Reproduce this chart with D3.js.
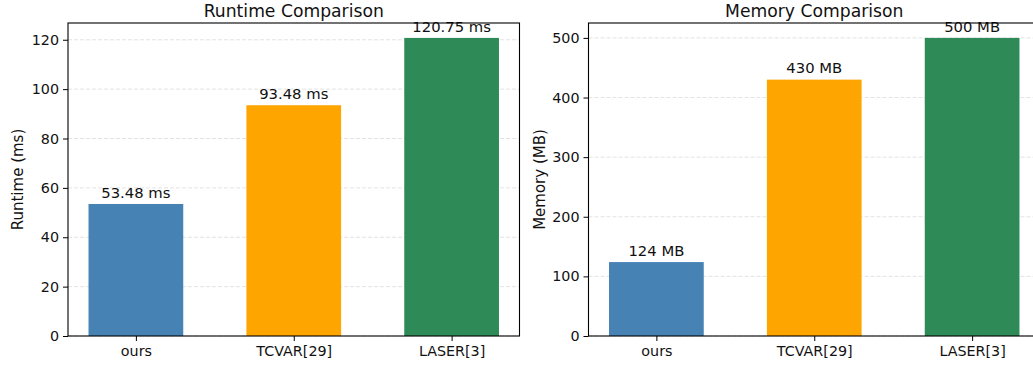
<!DOCTYPE html>
<html>
<head>
<meta charset="utf-8">
<script src="https://cdn.jsdelivr.net/npm/d3@7"></script>
<style>
  body { margin: 0; background: #fff; }
  svg { display: block; font-family: "DejaVu Sans", sans-serif; }
</style>
</head>
<body>
<div id="chart"></div>
<script>
// data
var categories = ["ours", "TCVAR[29]", "LASER[3]"];
var barColors = ["#4682b4", "#ffa500", "#2e8b57"];
var runtimeValues = [53.48, 93.48, 120.75];
var memoryValues = [124, 430, 500];
var runtimeTicks = [0, 20, 40, 60, 80, 100, 120];
var memoryTicks = [0, 100, 200, 300, 400, 500];
var runtimeLabels = ["53.48 ms", "93.48 ms", "120.75 ms"];
var memoryLabels = ["124 MB", "430 MB", "500 MB"];

var width = 1033, height = 366;

var svg = d3.select("#chart")
    .append("svg")
    .attr("width", width)
    .attr("height", height);

// one panel = one matplotlib axes
function drawPanel(left, values, labels, ticks, ymax, title, ylabel, ylabelX) {
  var top = 23, bottom = 336, w = 451.5;

  var x = d3.scaleLinear()
      .domain([-0.43, 2.43])
      .range([left, left + w]);

  var y = d3.scaleLinear()
      .domain([0, ymax])
      .range([bottom, top]);

  var g = svg.append("g");

  // grid behind the bars
  g.selectAll(".grid")
    .data(ticks)
    .enter().append("line")
    .attr("x1", left).attr("x2", left + w)
    .attr("y1", function(d) { return y(d); })
    .attr("y2", function(d) { return y(d); })
    .attr("stroke", "#dcdcdc")
    .attr("stroke-width", 0.8)
    .attr("stroke-dasharray", "4,2");

  var bw = x(0.6) - x(0);
  g.selectAll(".bar")
    .data(values)
    .enter().append("rect")
    .attr("x", function(d, i) { return x(i) - bw / 2; })
    .attr("y", function(d) { return y(d); })
    .attr("width", bw)
    .attr("height", function(d) { return bottom - y(d); })
    .attr("fill", function(d, i) { return barColors[i]; });

  // value labels above bars
  g.selectAll(".val")
    .data(values)
    .enter().append("text")
    .attr("x", function(d, i) { return x(i); })
    .attr("y", function(d) { return y(d) - 6.3; })
    .attr("text-anchor", "middle")
    .attr("font-size", "14.8px")
    .attr("fill", "#111")
    .text(function(d, i) { return labels[i]; });

  // axes
  var yAxis = d3.axisLeft(y).tickValues(ticks).tickSize(5).tickPadding(4);
  var yg = g.append("g").attr("transform", "translate(" + left + ",0)").call(yAxis);
  yg.select(".domain").remove();
  yg.selectAll("text").attr("font-size", "14.3px").attr("fill", "#111")
    .attr("font-family", "DejaVu Sans, sans-serif");
  yg.selectAll("line").attr("stroke", "#000");

  var xAxis = d3.axisBottom(x).tickValues([0, 1, 2])
      .tickFormat(function(d) { return categories[d]; })
      .tickSize(5).tickPadding(5);
  var xg = g.append("g").attr("transform", "translate(0," + bottom + ")").call(xAxis);
  xg.select(".domain").remove();
  xg.selectAll("text").attr("font-size", "14.3px").attr("fill", "#111")
    .attr("font-family", "DejaVu Sans, sans-serif");
  xg.selectAll("line").attr("stroke", "#000");

  // frame
  g.append("rect")
    .attr("x", left).attr("y", top)
    .attr("width", w).attr("height", bottom - top)
    .attr("fill", "none")
    .attr("stroke", "#000")
    .attr("stroke-width", 1.1);

  g.append("text")
    .attr("x", left + w / 2)
    .attr("y", 16.7)
    .attr("text-anchor", "middle")
    .attr("font-size", "17.2px")
    .attr("fill", "#111")
    .text(title);

  g.append("text")
    .attr("transform", "translate(" + ylabelX + "," + ((top + bottom) / 2) + ") rotate(-90)")
    .attr("text-anchor", "middle")
    .attr("font-size", "15px")
    .attr("fill", "#111")
    .text(ylabel);
}

drawPanel(68, runtimeValues, runtimeLabels, runtimeTicks, 126.79, "Runtime Comparison", "Runtime (ms)", 23);
drawPanel(588.5, memoryValues, memoryLabels, memoryTicks, 525, "Memory Comparison", "Memory (MB)", 545);
</script>
</body>
</html>
